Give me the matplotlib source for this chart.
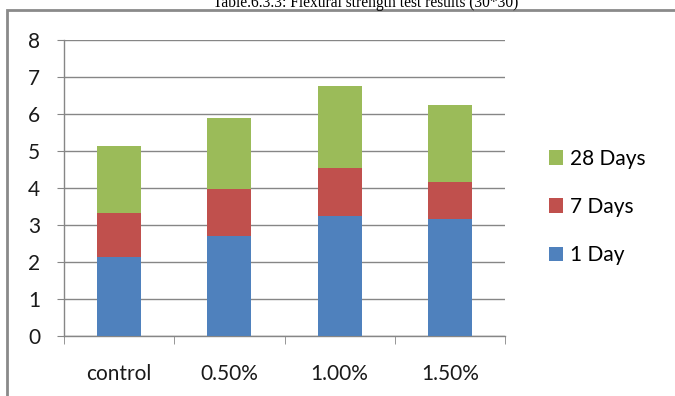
import numpy as np
import matplotlib
matplotlib.use('Agg')
from matplotlib import pyplot as plt
from matplotlib.patches import Rectangle

# flexural strength per fibre content, split by curing age
categories = ['control', '0.50%', '1.00%', '1.50%']
day1 = [2.14, 2.70, 3.25, 3.15]
day7 = [1.18, 1.28, 1.29, 1.01]
day28 = [1.81, 1.91, 2.22, 2.08]
series_labels = ['1 Day', '7 Days', '28 Days']
colors = ['#4F81BD', '#C0504D', '#9BBB59']

plt.rcParams['font.family'] = ['Lato', 'DejaVu Sans']

fig = plt.figure(figsize=(6.75, 3.96), dpi=100)
ax = fig.add_axes([64/675, 1 - 336/396, (505 - 64)/675, (336 - 40)/396])

x = np.arange(len(categories))
bottom = np.zeros(len(categories))
bars = []
for vals, lab, c in zip([day1, day7, day28], series_labels, colors):
    b = ax.bar(x, vals, width=0.4, bottom=bottom, color=c, label=lab, zorder=3)
    bars.append(b)
    bottom += np.array(vals)

ax.set_ylim(0, 8)
ax.set_xlim(-0.5, 3.5)
ax.set_yticks(range(0, 9))
ax.yaxis.grid(True, color='#868686', linewidth=1, zorder=0)
ax.set_xticks(x)
ax.set_xticklabels(categories)
ax.set_xticks(np.arange(-0.5, 4, 1), minor=True)
ax.tick_params(axis='x', which='major', length=0, pad=20, labelsize=15, labelcolor='#1a1a1a')
ax.tick_params(axis='x', which='minor', length=6, color='#868686', direction='out')
ax.tick_params(axis='y', length=5, color='#868686', labelsize=15, pad=12, labelcolor='#1a1a1a')
for s in ['top', 'right']:
    ax.spines[s].set_visible(False)
for s in ['left', 'bottom']:
    ax.spines[s].set_color('#868686')
    ax.spines[s].set_linewidth(1)

handles = [bars[2], bars[1], bars[0]]
fig.legend(handles, [series_labels[2], series_labels[1], series_labels[0]],
           loc='center left', bbox_to_anchor=(530/675, 1 - 207/396),
           frameon=False, fontsize=15, handlelength=0.7, handleheight=0.7,
           handletextpad=0.3, labelspacing=1.35)

# outer chart border
fig.patches.append(Rectangle((7/675, -0.1), 1.0, 1 - 10/396 + 0.1,
                             transform=fig.transFigure, fill=False,
                             edgecolor='#8a8a8a', linewidth=2))

fig.text(366/675, 1 - 3/396, 'Table.6.3.3: Flexural strength test results (30*30)',
         family='Liberation Serif', fontsize=11.2, ha='center', va='center')

fig.savefig('out.png', dpi=100)
